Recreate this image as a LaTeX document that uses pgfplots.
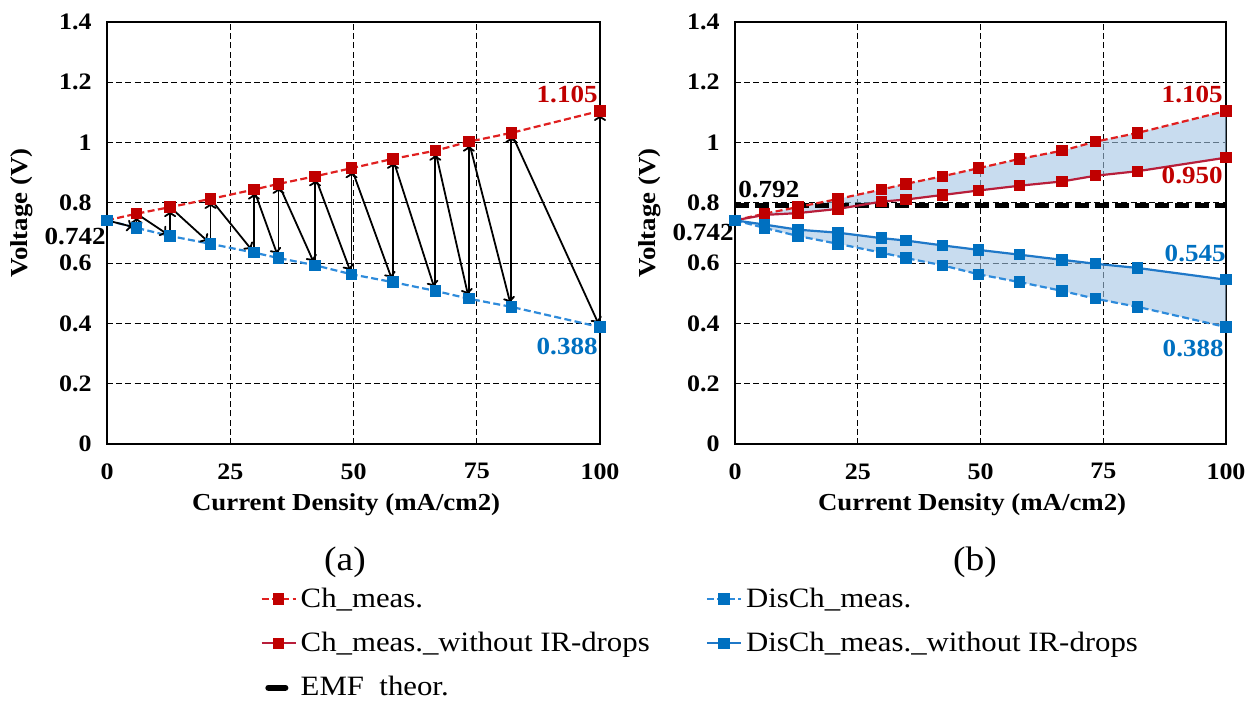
\documentclass[border=0pt]{standalone}
\usepackage{fontspec}
\setmainfont{Liberation Serif}[FakeStretch=1.1]
\usepackage{pgfplots}
\usepackage{pgfplotstable}
\pgfplotsset{compat=1.18}
\usetikzlibrary{arrows.meta}
\definecolor{rmark}{HTML}{C00000}
\definecolor{rline}{HTML}{E02020}
\definecolor{rsolid}{HTML}{B81E3A}
\definecolor{bmark}{HTML}{0070C0}
\definecolor{bline}{HTML}{2E8BDB}
\definecolor{bsolid}{HTML}{1F78C8}
\definecolor{fillb}{HTML}{A3C5E4}

\pgfplotstableread{
x ch dis chwo diswo
0 0.742 0.742 0.742 0.742
6 0.764 0.717 0.760 0.728
12.8 0.786 0.690 0.766 0.711
21 0.813 0.664 0.780 0.701
29.8 0.844 0.635 0.804 0.683
34.8 0.863 0.617 0.811 0.675
42.2 0.888 0.593 0.826 0.659
49.6 0.915 0.563 0.841 0.644
58 0.946 0.537 0.857 0.628
66.6 0.973 0.508 0.871 0.611
73.4 1.003 0.482 0.890 0.598
82 1.032 0.455 0.905 0.584
100 1.105 0.388 0.950 0.545
}\data

\pgfplotstableread{
x y u v
6 0.717 0 0.047
12.8 0.690 0 0.096
21 0.664 0 0.149
29.8 0.635 0 0.209
34.8 0.617 0 0.246
42.2 0.593 0 0.295
49.6 0.563 0 0.352
58 0.537 0 0.409
66.6 0.508 0 0.465
73.4 0.482 0 0.521
82 0.455 0 0.577
100 0.388 0 0.717
0 0.742 6 -0.025
6 0.764 6.8 -0.074
12.8 0.786 8.2 -0.122
21 0.813 8.8 -0.178
29.8 0.844 5.0 -0.227
34.8 0.863 7.4 -0.270
42.2 0.888 7.4 -0.325
49.6 0.915 8.4 -0.378
58 0.946 8.6 -0.438
66.6 0.973 6.8 -0.491
73.4 1.003 8.6 -0.548
82 1.032 18 -0.644
}\arrowdata

\tikzset{annot/.style={anchor=#1, inner sep=0pt, font=\fontsize{12.3}{14}\selectfont\bfseries}}

\pgfplotsset{
 myaxis/.style={
  scale only axis, height=211pt,
  xmin=0, xmax=100, ymin=0, ymax=1.4,
  xtick={0,25,50,75,100}, ytick={0,0.2,0.4,0.6,0.8,1,1.2,1.4},
  grid=major,
  major grid style={black, dash pattern=on 3pt off 1.6pt, line width=0.5pt},
  axis line style={black, line width=1.2pt},
  major tick length=0pt,
  tick label style={font=\fontsize{11.8}{13}\selectfont\bfseries},
  /pgf/number format/assume math mode=true,
  xticklabel style={yshift=-7.5pt, inner sep=2pt},
  yticklabel style={xshift=-4.2pt},
  xlabel={Current Density (mA/cm2)},
  ylabel={Voltage (V)},
  label style={font=\fontsize{12.2}{14}\selectfont\bfseries},
  clip=false,
 },
 chstyle/.style={rline, dash pattern=on 3.5pt off 1.7pt, line width=1.1pt, mark=square*, mark size=2.3pt, mark options={solid, fill=rmark, draw=rmark}},
 disstyle/.style={bline, dash pattern=on 3.5pt off 1.7pt, line width=1.1pt, mark=square*, mark size=2.3pt, mark options={solid, fill=bmark, draw=bmark}},
 chwostyle/.style={rsolid, solid, line width=1.1pt, mark=square*, mark size=2.3pt, mark options={solid, fill=rmark, draw=rmark}},
 diswostyle/.style={bsolid, solid, line width=1.1pt, mark=square*, mark size=2.3pt, mark options={solid, fill=bmark, draw=bmark}},
 emfleg/.style={black, line width=3pt, legend image code/.code={\draw[black, line width=3pt, line cap=round] (0.12cm,0pt) -- (0.42cm,0pt);}},
}

\begin{document}
\begin{tikzpicture}
\path[use as bounding box] (0,0) rectangle (629pt,-353pt);

% ---------- (a) ----------
\begin{axis}[myaxis, at={(53.5pt,-222pt)}, anchor=south west, width=246.5pt,
  xlabel style={at={(axis description cs:0.485,-0.143)}, anchor=center, inner sep=1pt},
  ylabel style={at={(axis description cs:-0.172,0.547)}, anchor=center}]
\addplot[chstyle] table[x=x,y=ch]{\data};
\addplot[disstyle] table[x=x,y=dis]{\data};
\addplot[black, line width=0.9pt, -{To[length=3.5pt,width=6pt]}, shorten <=1.5pt, shorten >=1.5pt,
  quiver={u=\thisrow{u}, v=\thisrow{v}}] table[x=x,y=y]{\arrowdata};
\node[annot=south east, text=rmark, yshift=4pt, xshift=-1pt] at (axis cs:100,1.105) {1.105};
\node[annot=north east, text=bmark, yshift=-5.5pt, xshift=-1pt] at (axis cs:100,0.388) {0.388};
\node[annot=north east, yshift=-3.5pt, xshift=-0.5pt] at (axis cs:0,0.742) {0.742};
\end{axis}

% ---------- (b) ----------
\begin{axis}[myaxis, at={(367.5pt,-222pt)}, anchor=south west, width=245.5pt,
  xlabel style={at={(axis description cs:0.483,-0.143)}, anchor=center, inner sep=1pt},
  ylabel style={at={(axis description cs:-0.174,0.547)}, anchor=center},
  legend style={at={(axis description cs:-0.9674,-0.330)}, anchor=north west, draw=none, fill=none,
    font=\fontsize{14}{15.5}\selectfont, row sep=7pt, inner sep=0pt,
    /tikz/every even column/.append style={column sep=26pt}},
  legend columns=2, legend cell align=left]
\addplot[fill=fillb, fill opacity=0.6, draw=none, forget plot] coordinates {
 (0,0.742) (6,0.764) (12.8,0.786) (21,0.813) (29.8,0.844) (34.8,0.863) (42.2,0.888)
 (49.6,0.915) (58,0.946) (66.6,0.973) (73.4,1.003) (82,1.032) (100,1.105)
 (100,0.950) (82,0.905) (73.4,0.890) (66.6,0.871) (58,0.857) (49.6,0.841) (42.2,0.826)
 (34.8,0.811) (29.8,0.804) (21,0.780) (12.8,0.766) (6,0.760) (0,0.742)};
\addplot[fill=fillb, fill opacity=0.6, draw=none, forget plot] coordinates {
 (0,0.742) (6,0.728) (12.8,0.711) (21,0.701) (29.8,0.683) (34.8,0.675) (42.2,0.659)
 (49.6,0.644) (58,0.628) (66.6,0.611) (73.4,0.598) (82,0.584) (100,0.545)
 (100,0.388) (82,0.455) (73.4,0.482) (66.6,0.508) (58,0.537) (49.6,0.563) (42.2,0.593)
 (34.8,0.617) (29.8,0.635) (21,0.664) (12.8,0.690) (6,0.717) (0,0.742)};
\addplot[black, line width=2.5pt, dash pattern=on 7pt off 3pt, forget plot] coordinates {(0,0.792) (100,0.792)};
\addplot[chstyle, forget plot] table[x=x,y=ch]{\data};
\addplot[disstyle, forget plot] table[x=x,y=dis]{\data};
\addplot[chwostyle, forget plot] table[x=x,y=chwo]{\data};
\addplot[diswostyle, forget plot] table[x=x,y=diswo]{\data};
\node[annot=south east, text=rmark, yshift=4pt, xshift=-1.5pt] at (axis cs:100,1.105) {1.105};
\node[annot=north east, text=rmark, yshift=-4.5pt, xshift=-1.5pt] at (axis cs:100,0.950) {0.950};
\node[annot=south east, text=bmark, yshift=8.5pt, xshift=0pt] at (axis cs:100,0.545) {0.545};
\node[annot=north east, text=bmark, yshift=-6.5pt, xshift=-1pt] at (axis cs:100,0.388) {0.388};
\node[annot=north east, yshift=-1.5pt, xshift=-0.5pt] at (axis cs:0,0.742) {0.742};
\node[annot=south west, yshift=3.5pt, xshift=1.5pt] at (axis cs:0,0.792) {0.792};

\addlegendimage{chstyle}
\addlegendentry{Ch\_meas.}
\addlegendimage{disstyle}
\addlegendentry{DisCh\_meas.}
\addlegendimage{chwostyle}
\addlegendentry{Ch\_meas.\_without IR-drops}
\addlegendimage{diswostyle}
\addlegendentry{DisCh\_meas.\_without IR-drops}
\addlegendimage{emfleg}
\addlegendentry{EMF\ \ theor.}
\end{axis}

\node[font=\fontsize{17}{19}\selectfont] at (172.5pt,-281pt) {(a)};
\node[font=\fontsize{17}{19}\selectfont] at (487.5pt,-281pt) {(b)};
\end{tikzpicture}
\end{document}
